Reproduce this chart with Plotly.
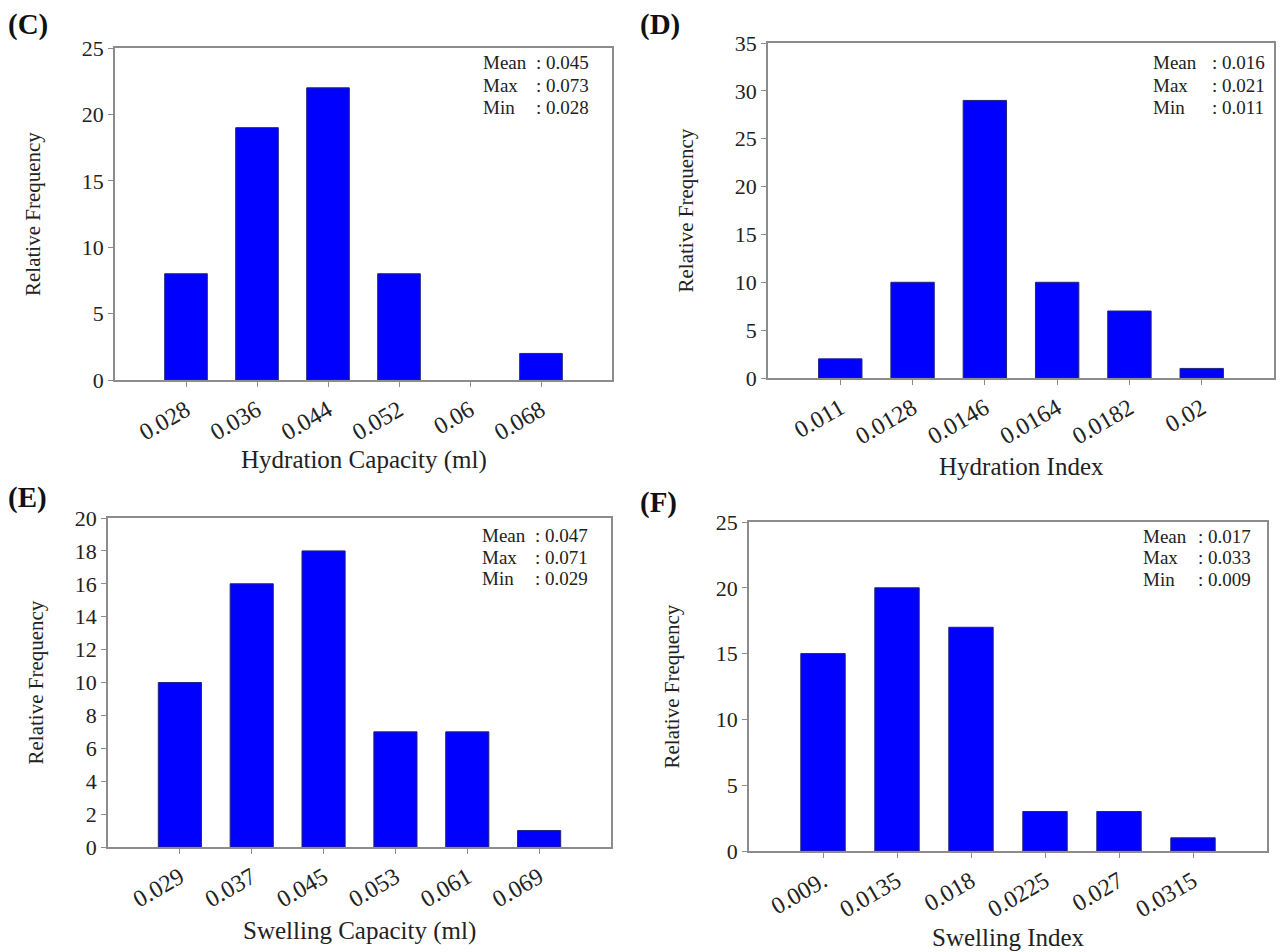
import plotly.graph_objects as go

W, H = 1281, 952

# ---------------- data ----------------
c_cats = ["0.028", "0.036", "0.044", "0.052", "0.06", "0.068"]
c_vals = [8, 19, 22, 8, 0, 2]

d_cats = ["0.011", "0.0128", "0.0146", "0.0164", "0.0182", "0.02"]
d_vals = [2, 10, 29, 10, 7, 1]

e_cats = ["0.029", "0.037", "0.045", "0.053", "0.061", "0.069"]
e_vals = [10, 16, 18, 7, 7, 1]

f_cats = ["0.009.", "0.0135", "0.018", "0.0225", "0.027", "0.0315"]
f_vals = [15, 20, 17, 3, 3, 1]

stat_names = ["Mean", "Max", "Min"]
c_stats = ["0.045", "0.073", "0.028"]
d_stats = ["0.016", "0.021", "0.011"]
e_stats = ["0.047", "0.071", "0.029"]
f_stats = ["0.017", "0.033", "0.009"]

x_titles = ["Hydration Capacity (ml)", "Hydration Index", "Swelling Capacity (ml)", "Swelling Index"]
panel_labels = ["(C)", "(D)", "(E)", "(F)"]
y_title = "Relative Frequency"

# ---------------- layout helpers ----------------
def px(x):
    return x / W

def py(y):
    return 1 - y / H

FONT = "Liberation Serif, Times New Roman, serif"
TXT = "#222222"
AX = "#8c8c8c"

panels = [
    dict(cats=c_cats, vals=c_vals, stats=c_stats, box=(115, 612, 48, 380), ymax=25, dtick=5,
         ytx=33, xty=460, slx=481, svx=534, sy=(63, 85, 107), lab=(6, 24)),
    dict(cats=d_cats, vals=d_vals, stats=d_stats, box=(768, 1274, 43, 378), ymax=35, dtick=5,
         ytx=685, xty=466, slx=1151, svx=1210, sy=(63, 85, 107), lab=(638, 24)),
    dict(cats=e_cats, vals=e_vals, stats=e_stats, box=(108, 611, 518, 847), ymax=20, dtick=2,
         ytx=35, xty=931, slx=480, svx=533, sy=(535, 557, 578), lab=(6, 497)),
    dict(cats=f_cats, vals=f_vals, stats=f_stats, box=(749, 1267, 522, 851), ymax=25, dtick=5,
         ytx=671, xty=937, slx=1141, svx=1196, sy=(536, 557, 579), lab=(638, 502)),
]

fig = go.Figure()
annotations = []

for i, p in enumerate(panels):
    n = "" if i == 0 else str(i + 1)
    xa, ya = "x" + n, "y" + n
    left, right, top, bottom = p["box"]
    fig.add_trace(go.Bar(
        x=p["cats"], y=p["vals"], xaxis=xa, yaxis=ya, width=0.6,
        marker=dict(color="#0000FF",
                    line=dict(color="#22227a", width=[1 if v > 0 else 0 for v in p["vals"]])),
        showlegend=False,
    ))
    common = dict(showline=True, mirror=True, linecolor=AX, linewidth=1.5,
                  ticks="outside", ticklen=5, tickcolor=AX, tickwidth=1.2,
                  showgrid=False, zeroline=False, automargin=False)
    fig.update_layout(**{
        "xaxis" + n: dict(domain=[px(left), px(right)], anchor=ya, type="category",
                          range=[-1, len(p["cats"])], tickangle=-30,
                          tickfont=dict(family=FONT, size=24, color=TXT), **common),
        "yaxis" + n: dict(domain=[py(bottom), py(top)], anchor=xa,
                          range=[0, p["ymax"]], dtick=p["dtick"],
                          tickfont=dict(family=FONT, size=22, color=TXT), **common),
    })
    cx = (left + right) / 2
    cy = (top + bottom) / 2
    annotations.append(dict(x=px(cx), y=py(p["xty"]), xref="paper", yref="paper",
                            text=x_titles[i], showarrow=False, xanchor="center", yanchor="middle",
                            font=dict(family=FONT, size=25, color=TXT)))
    annotations.append(dict(x=px(p["ytx"]), y=py(cy), xref="paper", yref="paper",
                            text=y_title, showarrow=False, textangle=-90,
                            xanchor="center", yanchor="middle",
                            font=dict(family=FONT, size=21, color=TXT)))
    annotations.append(dict(x=px(p["lab"][0]), y=py(p["lab"][1]), xref="paper", yref="paper",
                            text="<b>" + panel_labels[i] + "</b>", showarrow=False,
                            xanchor="left", yanchor="middle",
                            font=dict(family=FONT, size=29, color="#111111")))
    for name, val, yy in zip(stat_names, p["stats"], p["sy"]):
        annotations.append(dict(x=px(p["slx"]), y=py(yy), xref="paper", yref="paper",
                                text=name, showarrow=False, xanchor="left", yanchor="middle",
                                font=dict(family=FONT, size=19, color=TXT)))
        annotations.append(dict(x=px(p["svx"]), y=py(yy), xref="paper", yref="paper",
                                text=": " + val, showarrow=False, xanchor="left", yanchor="middle",
                                font=dict(family=FONT, size=19, color=TXT)))

fig.update_layout(
    width=W, height=H,
    margin=dict(l=0, r=0, t=0, b=0, pad=0, autoexpand=False),
    paper_bgcolor="white", plot_bgcolor="white",
    bargap=0.4,
    annotations=annotations,
)

fig.write_html("out.html")
